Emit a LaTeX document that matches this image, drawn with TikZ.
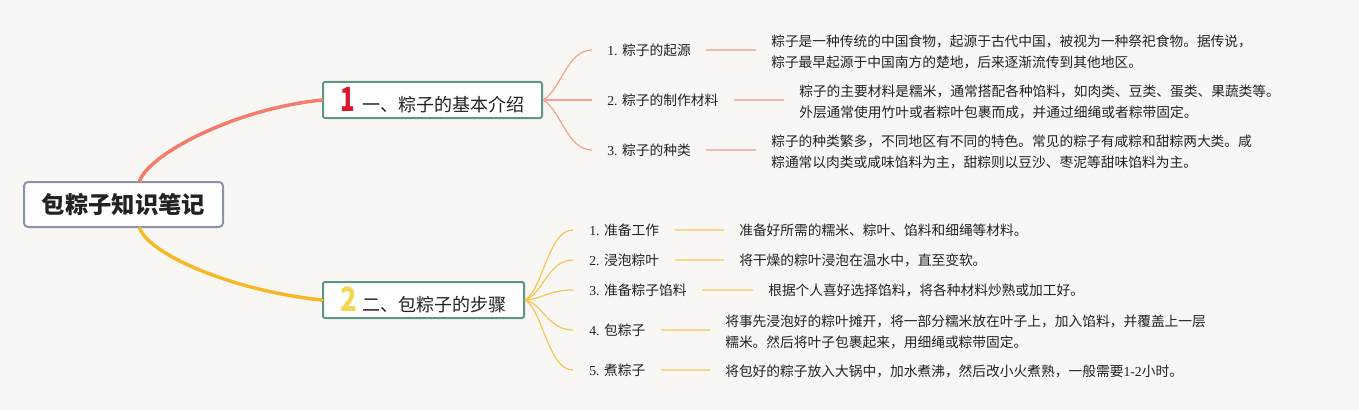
\documentclass[tikz,border=0pt]{standalone}
\usepackage{fontspec}
\setmainfont{Liberation Serif}
\newfontfamily\cjk{Noto Sans CJK SC}
\usepackage{tikz}
\definecolor{bgcol}{HTML}{F9F7F4}
\definecolor{rootline}{HTML}{8A93A8}
\definecolor{boxline}{HTML}{5E9686}
\definecolor{redtrunk}{HTML}{F47C6C}
\definecolor{redtwig}{HTML}{F3A193}
\definecolor{redleaf}{HTML}{F0BCB1}
\definecolor{yeltrunk}{HTML}{F6B824}
\definecolor{yeltwig}{HTML}{F6C655}
\definecolor{yelleaf}{HTML}{F7D88F}
\definecolor{numred}{HTML}{D7192A}
\definecolor{numyel}{HTML}{F2D656}
\definecolor{ink}{HTML}{222222}

\begin{document}
\begin{tikzpicture}[x=0.75pt,y=-0.75pt,
	root/.style = {draw=rootline,line width=1.5pt,fill=white,rounded corners=3pt,minimum width=149.25pt,minimum height=33.75pt,inner sep=0pt,text=ink,font=\cjk\bfseries\fontsize{17.5}{20}\selectfont},
	branch/.style = {draw=boxline,line width=1.5pt,fill=white,rounded corners=1.5pt,minimum height=27pt,inner sep=0pt,text=ink,font=\cjk\fontsize{13.5}{16}\selectfont},
	item/.style = {anchor=west,inner sep=0pt,text=ink,font=\fontsize{10.3}{12}\selectfont},
	note/.style = {anchor=west,inner sep=0pt,align=left,text=ink,font=\cjk\fontsize{10.3}{15.75}\selectfont},
	trunk/.style = {line width=2.6pt,line cap=round},
	twig/.style = {line width=0.9pt},
	leaf/.style = {line width=2pt,shorten <=11.5pt,shorten >=11.5pt}
	]
	\fill[bgcol] (0,0) rectangle (1359,410);
	\useasboundingbox (0,0) rectangle (1359,410);
	%RADICE
	\node[root] (root) at (123.5,204.5) {包粽子知识笔记};
	%RAMI
	\node[branch,minimum width=164.25pt] (intro) at (432.5,100) {{\bfseries\color{numred}\fontsize{25}{25}\selectfont\scalebox{0.72}[1]{1}}\hspace{5pt}一、粽子的基本介绍};
	\node[branch,minimum width=150.75pt] (steps) at (423.5,300) {{\bfseries\color{numyel}\fontsize{25}{25}\selectfont\scalebox{0.82}[1]{2}}\hspace{4pt}二、包粽子的步骤};
	\draw[trunk,redtrunk] ([xshift=12pt]root.north) .. controls +(10,-27) and +(-88,9) .. (intro.west);
	\draw[trunk,yeltrunk] ([xshift=12pt]root.south) .. controls +(10,27) and +(-88,-9) .. (steps.west);
	%PRIMO RAMO
	\node[item] (intro1) at (607,50) {1. {\cjk 粽子的起源}};
	\node[item] (intro2) at (607,100) {2. {\cjk 粽子的制作材料}};
	\node[item] (intro3) at (607,150) {3. {\cjk 粽子的种类}};
	\node[note] (introtxt1) at (771,51.5) {粽子是一种传统的中国食物，起源于古代中国，被视为一种祭祀食物。据传说，\\粽子最早起源于中国南方的楚地，后来逐渐流传到其他地区。};
	\node[note] (introtxt2) at (799,102) {粽子的主要材料是糯米，通常搭配各种馅料，如肉类、豆类、蛋类、果蔬类等。\\外层通常使用竹叶或者粽叶包裹而成，并通过细绳或者粽带固定。};
	\node[note] (introtxt3) at (771,152) {粽子的种类繁多，不同地区有不同的特色。常见的粽子有咸粽和甜粽两大类。咸\\粽通常以肉类或咸味馅料为主，甜粽则以豆沙、枣泥等甜味馅料为主。};
	\foreach \n/\dy in {1/-10,2/0,3/10} {
		\draw[twig,redtwig] (intro.east) .. controls +(18,\dy) and +(-25,0) .. ([xshift=-11.25pt]intro\n.west);
		\draw[leaf,redleaf] (intro\n.east) -- (introtxt\n.west |- intro\n.east);
	}
	%SECONDO RAMO
	\node[item] (step1) at (589,230) {1. {\cjk 准备工作}};
	\node[item] (step2) at (589,260) {2. {\cjk 浸泡粽叶}};
	\node[item] (step3) at (589,290) {3. {\cjk 准备粽子馅料}};
	\node[item] (step4) at (589,330) {4. {\cjk 包粽子}};
	\node[item] (step5) at (589,370) {5. {\cjk 煮粽子}};
	\node[note] (steptxt1) at (739,230) {准备好所需的糯米、粽叶、馅料和细绳等材料。};
	\node[note] (steptxt2) at (739,260) {将干燥的粽叶浸泡在温水中，直至变软。};
	\node[note] (steptxt3) at (768,290) {根据个人喜好选择馅料，将各种材料炒熟或加工好。};
	\node[note] (steptxt4) at (725,332) {将事先浸泡好的粽叶摊开，将一部分糯米放在叶子上，加入馅料，并覆盖上一层\\糯米。然后将叶子包裹起来，用细绳或粽带固定。};
	\node[note] (steptxt5) at (725,371) {将包好的粽子放入大锅中，加水煮沸，然后改小火煮熟，一般需要{\rmfamily 1-2}小时。};
	\foreach \n/\dy in {1/-10,2/-6,3/-1,4/4,5/10} {
		\draw[twig,yeltwig] (steps.east) .. controls +(18,\dy) and +(-25,0) .. ([xshift=-12pt]step\n.west);
		\draw[leaf,yelleaf] (step\n.east) -- (steptxt\n.west |- step\n.east);
	}
\end{tikzpicture}
\end{document}
